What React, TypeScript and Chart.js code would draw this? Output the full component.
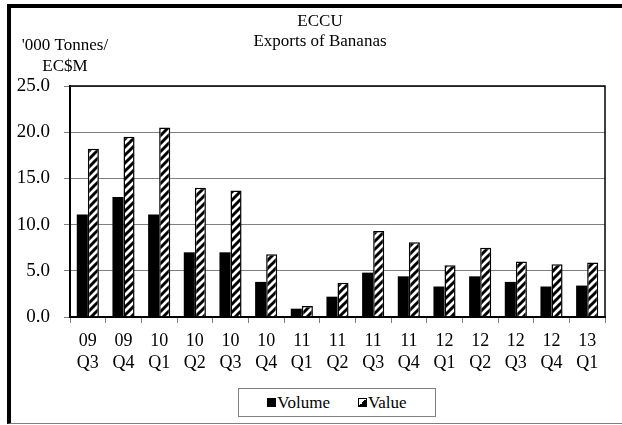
import React, { useEffect, useRef } from "react";
import { Chart, registerables } from "chart.js";

Chart.register(...registerables);

const categories: string[][] = [
  ["09", "Q3"], ["09", "Q4"], ["10", "Q1"], ["10", "Q2"], ["10", "Q3"], ["10", "Q4"],
  ["11", "Q1"], ["11", "Q2"], ["11", "Q3"], ["11", "Q4"], ["12", "Q1"], ["12", "Q2"],
  ["12", "Q3"], ["12", "Q4"], ["13", "Q1"],
];
const volume: number[] = [11.1, 13.0, 11.1, 7.0, 7.0, 3.8, 0.9, 2.2, 4.8, 4.4, 3.3, 4.4, 3.8, 3.3, 3.4];
const value: number[] = [18.2, 19.5, 20.5, 14.0, 13.7, 6.8, 1.2, 3.7, 9.3, 8.1, 5.6, 7.5, 6.0, 5.7, 5.9];
const titleLines: string[] = ["ECCU", "Exports of Bananas"];
const yTitleLines: string[] = ["'000 Tonnes/", "EC$M"];
const yMin = 0;
const yMax = 25;
const yStep = 5;

const FONT = "'Liberation Serif', 'Times New Roman', serif";

function makeHatch(): CanvasPattern | string {
  const s = 8;
  const c = document.createElement("canvas");
  c.width = s;
  c.height = s;
  const ctx = c.getContext("2d");
  if (!ctx) return "#fff";
  ctx.fillStyle = "#fff";
  ctx.fillRect(0, 0, s, s);
  ctx.strokeStyle = "#000";
  ctx.lineWidth = 3;
  ctx.beginPath();
  ctx.moveTo(0, s);
  ctx.lineTo(s, 0);
  ctx.moveTo(-s / 2, s / 2);
  ctx.lineTo(s / 2, -s / 2);
  ctx.moveTo(s / 2, s * 1.5);
  ctx.lineTo(s * 1.5, s / 2);
  ctx.stroke();
  const p = ctx.createPattern(c, "repeat");
  return p || "#fff";
}

const textPlugin = {
  id: "texts",
  afterDraw(chart: any) {
    const { ctx, chartArea } = chart;
    ctx.save();
    ctx.strokeStyle = "#000";
    ctx.lineWidth = 1.5;
    ctx.strokeRect(chartArea.left, chartArea.top, chartArea.right - chartArea.left, chartArea.bottom - chartArea.top);
    ctx.fillStyle = "#000";
    ctx.font = `17px ${FONT}`;
    ctx.textAlign = "center";
    ctx.textBaseline = "middle";
    ctx.fillText(titleLines[0], 320, 22);
    ctx.fillText(titleLines[1], 320, 42);
    ctx.fillText(yTitleLines[0], 65, 46);
    ctx.fillText(yTitleLines[1], 65, 67);
    ctx.restore();
  },
};

export default function App() {
  const ref = useRef<HTMLCanvasElement | null>(null);

  useEffect(() => {
    if (!ref.current) return;
    const hatch = makeHatch();
    const chart = new Chart(ref.current, {
      type: "bar",
      data: {
        labels: categories,
        datasets: [
          {
            label: "Volume",
            data: volume,
            backgroundColor: "#000",
            borderColor: "#000",
            borderWidth: 0,
            categoryPercentage: 0.62,
            barPercentage: 1,
          },
          {
            label: "Value",
            data: value,
            backgroundColor: hatch as any,
            borderColor: "#000",
            borderWidth: 1.5,
            categoryPercentage: 0.62,
            barPercentage: 1,
          },
        ],
      },
      options: {
        responsive: false,
        animation: false,
        devicePixelRatio: 1,
        layout: { padding: { left: 0, right: 17, top: 86, bottom: 0 } },
        plugins: {
          legend: { display: false },
          title: { display: false },
          tooltip: { enabled: false },
        },
        scales: {
          x: {
            offset: true,
            grid: {
              display: true,
              drawOnChartArea: false,
              offset: true,
              tickLength: 6,
              color: "#808080",
            },
            border: { display: true, color: "#000", width: 2 },
            ticks: {
              color: "#000",
              font: { family: FONT, size: 18, lineHeight: 1.25 },
              padding: 7,
              maxRotation: 0,
              autoSkip: false,
            },
            afterFit(scale: any) {
              scale.height = 108;
            },
          },
          y: {
            min: yMin,
            max: yMax,
            grid: { color: "#808080", tickLength: 6, lineWidth: 1 },
            border: { display: true, color: "#000", width: 2 },
            ticks: {
              stepSize: yStep,
              color: "#000",
              padding: 14,
              font: { family: FONT, size: 19 },
              callback: (v: any) => Number(v).toFixed(1),
            },
            afterFit(scale: any) {
              scale.width = 70;
            },
          },
        },
      },
      plugins: [textPlugin],
    });
    return () => chart.destroy();
  }, []);

  const swatch: React.CSSProperties = { display: "inline-block", width: 9, height: 9, marginRight: 1 };

  return (
    <div style={{ position: "fixed", left: 0, top: 0, width: 622, height: 425, background: "#fff", overflow: "hidden" }}>
      <div
        style={{
          position: "absolute",
          left: 7,
          top: 4,
          right: -4,
          bottom: 1,
          borderTop: "4px solid #000",
          borderLeft: "4px solid #000",
          borderBottom: "1px solid #808080",
        }}
      />
      <canvas ref={ref} width={622} height={425} style={{ position: "absolute", left: 0, top: 0 }} />
      <div
        style={{
          position: "absolute",
          left: 238,
          top: 388,
          width: 198,
          height: 29,
          boxSizing: "border-box",
          border: "1px solid #808080",
          background: "#fff",
          display: "flex",
          alignItems: "center",
          justifyContent: "center",
          fontFamily: FONT,
          fontSize: 17,
          color: "#000",
        }}
      >
        <span style={{ display: "flex", alignItems: "center", marginRight: 28 }}>
          <span style={{ ...swatch, background: "#000" }} />
          Volume
        </span>
        <span style={{ display: "flex", alignItems: "center" }}>
          <span
            style={{
              ...swatch,
              boxSizing: "border-box",
              border: "1px solid #000",
              background: "linear-gradient(to bottom right, #fff 50%, #000 50%)",
            }}
          />
          Value
        </span>
      </div>
    </div>
  );
}
